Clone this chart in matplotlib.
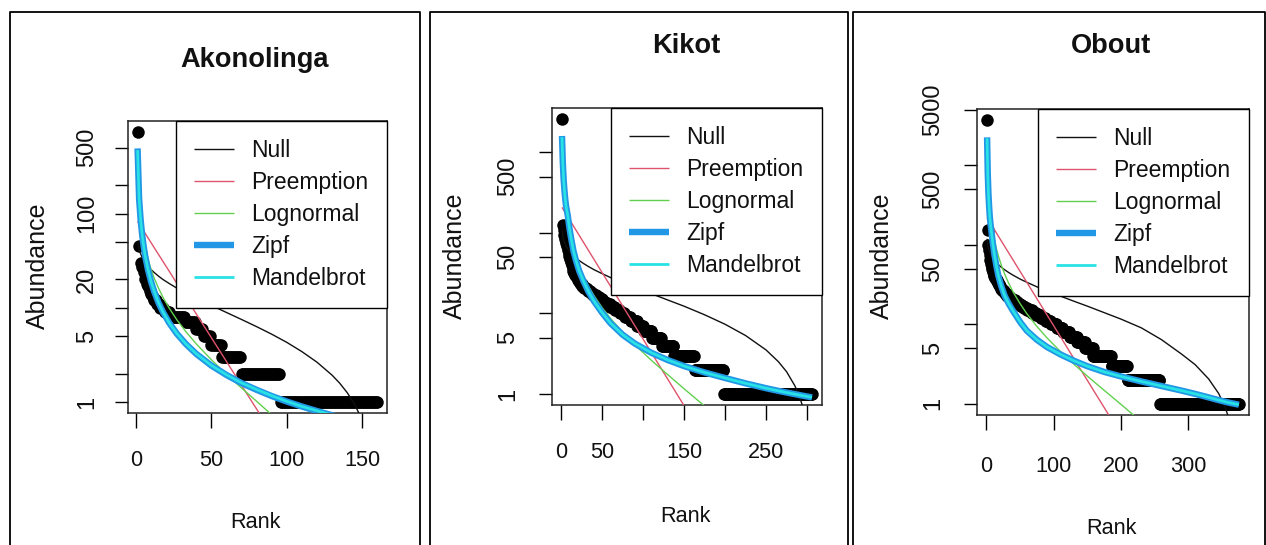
import numpy as np
import matplotlib
matplotlib.use("Agg")
import matplotlib.pyplot as plt
from matplotlib.lines import Line2D
from matplotlib import font_manager as fm
from matplotlib.ticker import NullLocator, FixedLocator

# ---------------- data ----------------
sites = ["Akonolinga", "Kikot", "Obout"]
model_names = ["Null", "Preemption", "Lognormal", "Zipf", "Mandelbrot"]

# Akonolinga: abundances of the top ranks, then runs of equal abundances
ako_head = [735, 45, 30, 27, 24, 20, 18, 17, 15, 14, 13, 12, 12, 11, 11, 10, 10, 10, 9, 9, 9, 9]
ako_tail_values = [8, 7, 6, 5, 4, 3, 2, 1]
ako_tail_counts = [10, 7, 5, 5, 7, 13, 26, 65]
ako_fit_rank = [1, 2, 3, 4, 5, 6, 8, 10, 12, 15, 18, 22, 27, 33, 40, 50, 60, 70, 80, 90,
                100, 110, 120, 130, 135, 140, 145, 150, 155, 160]
ako_null = [50.8, 41.8, 37.4, 34.4, 32.1, 30.3, 27.5, 25.4, 23.7, 21.6, 19.9, 18.1, 16.2, 14.4, 12.6,
            10.6, 8.92, 7.52, 6.31, 5.25, 4.30, 3.43, 2.65, 1.93, 1.59, 1.26, 0.944, 0.638, 0.343, 0.056]
ako_preemption = [82.4, 77.8, 73.4, 69.2, 65.4, 61.7, 54.9, 48.9, 43.5, 36.6, 30.7, 24.4, 18.2, 12.9, 8.58,
                  4.80, 2.69, 1.50, 0.842, 0.471, 0.264, 0.148, 0.0827, 0.0463, 0.0346, 0.0259, 0.0194,
                  0.0145, 0.0108, 0.0081]
ako_lognormal = [289, 130, 86.8, 65.2, 52.4, 43.5, 32.2, 25.4, 20.7, 16.0, 12.8, 9.9, 7.48, 5.60, 4.13,
                 2.81, 1.97, 1.41, 1.02, 0.733, 0.526, 0.370, 0.252, 0.163, 0.127, 0.095, 0.068, 0.044,
                 0.023, 0.0035]
ako_zipf = [490, 144, 86.3, 59.9, 45.2, 35.8, 24.9, 18.8, 14.9, 11.2, 8.92, 6.91, 5.33, 4.14, 3.24,
            2.44, 1.94, 1.59, 1.35, 1.16, 1.015, 0.899, 0.805, 0.727, 0.694, 0.662, 0.633, 0.607, 0.582, 0.560]
ako_mandelbrot = [470, 145, 86.5, 60.0, 45.3, 35.9, 25.0, 18.9, 15.0, 11.25, 8.95, 6.93, 5.35, 4.15, 3.25,
                  2.45, 1.95, 1.60, 1.36, 1.17, 1.02, 0.90, 0.81, 0.73, 0.70, 0.665, 0.636, 0.61, 0.585, 0.563]

# Kikot
kik_head = [2600, 125, 110, 95, 85, 75, 68, 62, 56, 51, 47, 43, 40, 37, 34, 32, 30, 29, 28, 27,
            26, 25, 24, 23, 23, 22, 22, 21, 21, 21, 20, 20, 19, 19, 19, 18, 18, 18, 17, 17,
            17, 17, 16, 16, 16, 16]
kik_tail_values = [15, 14, 13, 12, 11, 10, 9, 8, 7, 6, 5, 4, 3, 2, 1]
kik_tail_counts = [4, 4, 5, 6, 6, 6, 7, 8, 8, 10, 12, 15, 25, 36, 108]
kik_fit_rank = [1, 2, 3, 4, 5, 6, 8, 10, 12, 15, 18, 22, 27, 33, 40, 50, 60, 75, 90, 110,
                130, 150, 175, 200, 225, 250, 265, 275, 285, 290, 295, 300, 306]
kik_null = [107.8, 90.7, 82.1, 76.4, 72.1, 68.7, 63.4, 59.4, 56.1, 52.2, 48.9, 45.4, 41.9, 38.4, 35.0,
            31.2, 28.0, 24.2, 21.05, 17.6, 14.7, 12.3, 9.63, 7.34, 5.32, 3.52, 2.52, 1.89, 1.27, 0.976,
            0.683, 0.395, 0.056]
kik_preemption = [207.5, 199.7, 192.3, 185.1, 178.2, 171.6, 159.0, 147.3, 136.5, 121.8, 108.6, 93.3, 77.1,
                  61.4, 47.0, 32.1, 22.0, 12.4, 7.01, 3.27, 1.53, 0.714, 0.276, 0.107, 0.0411, 0.0159,
                  0.00897, 0.00613, 0.00419, 0.00347, 0.00286, 0.00237, 0.00188]
kik_lognormal = [1327, 560, 361, 266, 210, 173, 127, 98.9, 80.4, 61.7, 49.4, 38.3, 29.3, 22.1, 16.7,
                 11.8, 8.73, 5.83, 4.07, 2.62, 1.74, 1.16, 0.708, 0.422, 0.240, 0.124, 0.076, 0.051,
                 0.031, 0.022, 0.0147, 0.0081, 0.0009]
kik_zipf = [1600, 740, 460, 335, 260, 215, 165, 116, 87, 60, 45.6, 33.7, 25.5, 18.9, 14.2,
            10.2, 7.6, 5.44, 4.22, 3.25, 2.64, 2.22, 1.85, 1.58, 1.355, 1.18, 1.094, 1.043, 0.996,
            0.974, 0.952, 0.932, 0.908]
kik_mandelbrot = [1550, 730, 458, 334, 259, 214, 164.5, 116, 87, 60, 45.7, 33.8, 25.6, 19.0, 14.25,
                  10.25, 7.65, 5.46, 4.23, 3.26, 2.65, 2.22, 1.85, 1.58, 1.355, 1.18, 1.094, 1.043, 0.996,
                  0.974, 0.952, 0.932, 0.908]

# Obout
obo_head = [3700, 155, 100, 86, 75, 65, 58, 53, 49, 45, 42, 40, 38, 37, 36, 35, 33, 32, 31, 30,
            29, 28, 27, 27, 26, 26, 25, 25, 24, 24, 23, 23, 22, 22, 22, 21, 21, 21, 20, 20,
            20, 20, 19, 19, 19, 19, 18, 18, 18, 18, 17, 17, 17, 17, 17]
obo_tail_values = [16, 15, 14, 13, 12, 11, 10, 9, 8, 7, 6, 5, 4, 3, 2, 1]
obo_tail_counts = [5, 7, 6, 7, 7, 8, 9, 9, 10, 11, 12, 12, 27, 24, 48, 118]
obo_fit_rank = [1, 2, 3, 4, 5, 6, 8, 10, 12, 15, 18, 22, 27, 33, 40, 50, 60, 75, 90, 110,
                130, 150, 175, 200, 230, 260, 290, 310, 330, 345, 355, 360, 365, 375]
obo_null = [119.2, 100.9, 91.8, 85.6, 81.1, 77.4, 71.7, 67.4, 63.9, 59.6, 56.2, 52.4, 48.6, 44.9, 41.3,
            37.1, 33.8, 29.6, 26.3, 22.6, 19.5, 16.9, 14.0, 11.6, 9.02, 6.4, 4.2, 3.1, 2.05, 1.34,
            0.88, 0.65, 0.44, 0.049]
obo_preemption = [218.8, 212.0, 205.3, 199.0, 192.8, 186.8, 175.3, 164.6, 154.5, 140.5, 127.8, 112.6, 96.1,
                  79.5, 63.7, 46.4, 33.8, 21.0, 13.1, 6.96, 3.69, 1.96, 0.890, 0.403, 0.156, 0.0604,
                  0.0234, 0.0124, 0.0066, 0.0041, 0.0030, 0.0026, 0.0022, 0.0016]
obo_lognormal = [1811, 769, 500, 370, 293, 243, 179, 140, 114, 88.5, 71.6, 56.0, 43.1, 33.0, 25.2,
                 18.2, 13.6, 9.38, 6.74, 4.53, 3.14, 2.22, 1.47, 0.977, 0.593, 0.349, 0.193, 0.121,
                 0.0687, 0.0394, 0.0239, 0.0172, 0.0112, 0.00078]
obo_zipf = [2260, 800, 450, 308, 230, 187, 135, 98, 75, 53, 40, 30.4, 23, 18.2, 14.5,
            10.7, 8.3, 6.38, 5.17, 4.17, 3.47, 2.96, 2.51, 2.2, 1.906, 1.668, 1.459, 1.328, 1.2, 1.108,
            1.055, 1.03, 1.01, 0.97]
obo_mandelbrot = [2200, 790, 447, 307, 229, 186.5, 134.5, 98, 75, 53.1, 40.1, 30.5, 23.1, 18.25, 14.55,
                  10.72, 8.32, 6.39, 5.18, 4.18, 3.47, 2.96, 2.51, 2.2, 1.906, 1.668, 1.459, 1.328, 1.2,
                  1.108, 1.055, 1.03, 1.01, 0.97]

# axis ticks / labels
ako_yticks = [1, 2, 5, 10, 20, 50, 100, 200, 500]
ako_ylabels = ["1", "", "5", "", "20", "", "100", "", "500"]
ako_xticks = [0, 50, 100, 150]
ako_xlabels = ["0", "50", "100", "150"]
kik_yticks = [1, 5, 10, 50, 100, 500, 1000]
kik_ylabels = ["1", "5", "", "50", "", "500", ""]
kik_xticks = [0, 50, 100, 150, 200, 250, 300]
kik_xlabels = ["0", "50", "", "150", "", "250", ""]
obo_yticks = [1, 5, 10, 50, 100, 500, 1000, 5000]
obo_ylabels = ["1", "5", "", "50", "", "500", "", "5000"]
obo_xticks = [0, 100, 200, 300]
obo_xlabels = ["0", "100", "200", "300"]

# ---------------- style ----------------
def font_available(name):
    try:
        fm.findfont(fm.FontProperties(family=name), fallback_to_default=False)
        return True
    except Exception:
        return False

if font_available("Liberation Sans Narrow"):
    NARROW, K = "Liberation Sans Narrow", 1.1
else:
    NARROW, K = "Liberation Sans", 0.89
WIDE = "Liberation Sans"

model_colors = ["#111111", "#DF536B", "#61D04F", "#2297E6", "#28E2E5"]
model_widths = [1.0, 1.0, 1.0, 4.6, 2.0]
TXT = "#111111"

W, H = 1266, 545
fig = plt.figure(figsize=(W / 100, H / 100), dpi=100)
fig.patch.set_facecolor("white")

def fx(px):
    return px / W

def fy(py):
    return 1 - py / H

panels = [
    dict(head=ako_head, tv=ako_tail_values, tc=ako_tail_counts, fr=ako_fit_rank,
         fits=[ako_null, ako_preemption, ako_lognormal, ako_zipf, ako_mandelbrot],
         yt=ako_yticks, yl=ako_ylabels, xt=ako_xticks, xl=ako_xlabels,
         box=(128, 387, 121, 413), frame=(10, 420), title_xy=(255, 60),
         rank_xy=(255, 522), abund_xy=(38, 266), ypad=12, xpad=16),
    dict(head=kik_head, tv=kik_tail_values, tc=kik_tail_counts, fr=kik_fit_rank,
         fits=[kik_null, kik_preemption, kik_lognormal, kik_zipf, kik_mandelbrot],
         yt=kik_yticks, yl=kik_ylabels, xt=kik_xticks, xl=kik_xlabels,
         box=(552, 822, 108, 405), frame=(430, 848), title_xy=(686, 46),
         rank_xy=(686, 517), abund_xy=(455, 256), ypad=14, xpad=16),
    dict(head=obo_head, tv=obo_tail_values, tc=obo_tail_counts, fr=obo_fit_rank,
         fits=[obo_null, obo_preemption, obo_lognormal, obo_zipf, obo_mandelbrot],
         yt=obo_yticks, yl=obo_ylabels, xt=obo_xticks, xl=obo_xlabels,
         box=(977, 1249, 109, 415), frame=(853, 1265), title_xy=(1111, 46),
         rank_xy=(1111, 528), abund_xy=(882, 256), ypad=14, xpad=19),
]

for site, p in zip(sites, panels):
    # outer frame of the pasted panel
    x0, x1 = p["frame"]
    fig.add_artist(Line2D([fx(x0), fx(x0), fx(x1), fx(x1)], [0, fy(12), fy(12), 0],
                          transform=fig.transFigure, color="black", lw=1.3))

    l, r, t, b = p["box"]
    ax = fig.add_axes([fx(l), fy(b), fx(r) - fx(l), fy(t) - fy(b)])
    abund = np.concatenate([np.array(p["head"], float), np.repeat(p["tv"], p["tc"]).astype(float)])
    rank = np.arange(1, len(abund) + 1)
    ax.plot(rank, abund, "o", ms=9, color="black", mew=0, zorder=2)
    for name, vals, c, lw in zip(model_names, p["fits"], model_colors, model_widths):
        ax.plot(p["fr"], vals, color=c, lw=lw, label=name, zorder=3,
                solid_capstyle="butt", solid_joinstyle="round")

    ax.set_yscale("log")
    n = len(abund)
    ax.set_xlim(1 - 0.04 * (n - 1), n + 0.04 * (n - 1))
    lo, hi = np.log10(abund.min()), np.log10(abund.max())
    d = hi - lo
    ax.set_ylim(10 ** (lo - 0.04 * d), 10 ** (hi + 0.04 * d))

    ax.yaxis.set_major_locator(FixedLocator(p["yt"]))
    ax.yaxis.set_minor_locator(NullLocator())
    ax.set_yticklabels(p["yl"], rotation=90, va="center", family=WIDE, fontsize=17, color=TXT)
    ax.xaxis.set_major_locator(FixedLocator(p["xt"]))
    ax.set_xticklabels(p["xl"], family=NARROW, fontsize=17.5 * K, color=TXT)
    ax.tick_params(axis="y", length=9.5, width=1.0, pad=p["ypad"])
    ax.tick_params(axis="x", length=10.5, width=1.0, pad=p["xpad"])
    for s in ax.spines.values():
        s.set_linewidth(1.1)
        s.set_color("#222222")

    leg = ax.legend(loc="upper right", borderaxespad=0,
                    prop=fm.FontProperties(family=NARROW, size=18.5 * K),
                    handlelength=1.75, handletextpad=0.75, labelspacing=0.39,
                    borderpad=0.8, fancybox=False, edgecolor="black", framealpha=1)
    leg.get_frame().set_linewidth(1.0)
    for txt in leg.get_texts():
        txt.set_color(TXT)

    fig.text(fx(p["title_xy"][0]), fy(p["title_xy"][1]), site, ha="center", va="center",
             family=NARROW, fontsize=22 * K, fontweight="bold", color=TXT)
    fig.text(fx(p["rank_xy"][0]), fy(p["rank_xy"][1]), "Rank", ha="center", va="center",
             family=NARROW, fontsize=17.5 * K, color=TXT)
    fig.text(fx(p["abund_xy"][0]), fy(p["abund_xy"][1]), "Abundance", ha="center", va="center",
             rotation=90, family=WIDE, fontsize=18, color=TXT)

fig.savefig("out.png", dpi=100)
